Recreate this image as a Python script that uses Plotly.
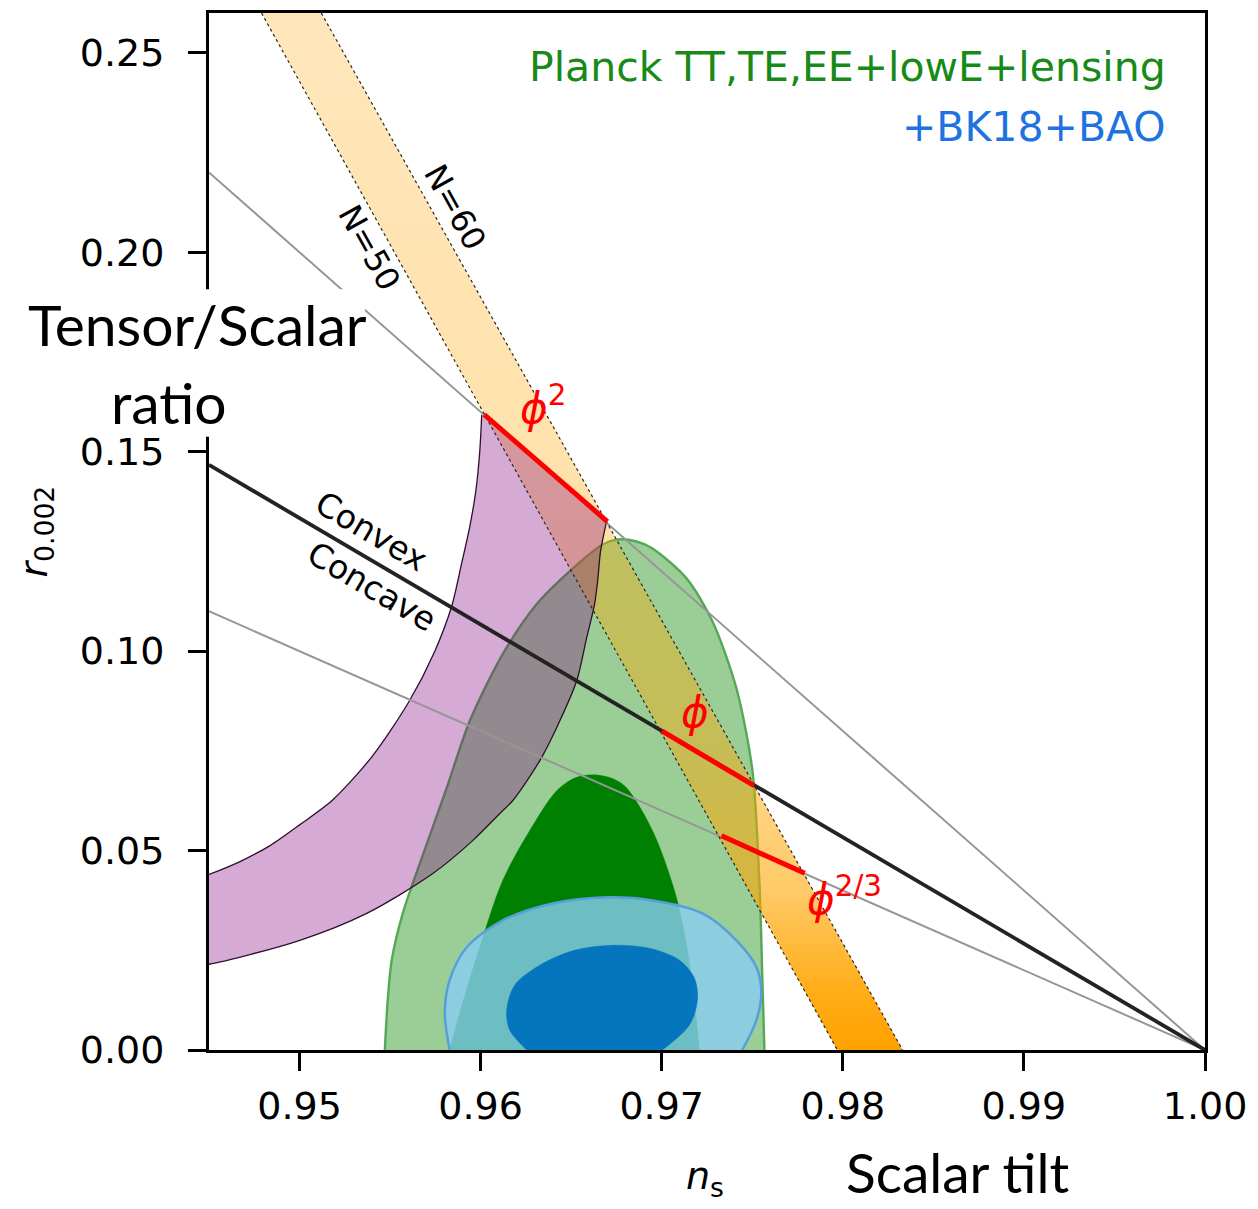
import plotly.graph_objects as go

# ---------------- data ----------------
# straight model lines through (1, 0)
line_ns = [0.945, 1.0]
r_upper = [0.22, 0.0]      # thin grey
r_mid = [0.1467, 0.0]      # convex / concave boundary (black)
r_lower = [0.11, 0.0]      # thin grey

# N = 50 and N = 60 band edges
n50_ns = [0.9479, 0.9797]
n50_r = [0.26, 0.0]
n60_ns = [0.9512, 0.9833]
n60_r = [0.26, 0.0]

# red model segments
phi2_ns = [0.9602, 0.9670]
phi2_r = [0.1593, 0.1325]
phi1_ns = [0.9700, 0.9751]
phi1_r = [0.0800, 0.0663]
phi23_ns = [0.9733, 0.9779]
phi23_r = [0.0537, 0.0443]

# purple region (left and right edges, top to bottom)
purple_left_ns = [0.96006, 0.95995, 0.95973, 0.95940, 0.95895, 0.95840, 0.95747,
                  0.95603, 0.95399, 0.95184, 0.95002, 0.94837, 0.94671, 0.94500, 0.94395]
purple_left_r = [0.15925, 0.1500, 0.1400, 0.13125, 0.1220, 0.11125, 0.1000,
                 0.08725, 0.0735, 0.06275, 0.0565, 0.05125, 0.04725, 0.0440, 0.04225]
purple_right_ns = [0.96695, 0.96662, 0.96646, 0.96629, 0.96585, 0.96530, 0.96419,
                   0.96326, 0.96177, 0.96105, 0.95956, 0.95736, 0.95371, 0.95002,
                   0.94500, 0.94400]
purple_right_r = [0.1325, 0.1250, 0.1175, 0.11175, 0.10325, 0.0925, 0.08075,
                  0.0725, 0.0625, 0.05925, 0.0525, 0.04425, 0.03425, 0.0275,
                  0.0215, 0.0212]

# Planck 95% contour
g95_ns = [0.95471, 0.95487, 0.95509, 0.95570, 0.95664, 0.95813, 0.95940, 0.96122,
          0.96309, 0.96491, 0.96673, 0.96756, 0.96861, 0.96949, 0.97137, 0.97280,
          0.97412, 0.97501, 0.97539, 0.97556, 0.97567]
g95_r = [0.0, 0.0125, 0.0225, 0.03425, 0.04675, 0.06575, 0.0825, 0.09925,
         0.11175, 0.1200, 0.12675, 0.1280, 0.1275, 0.12575, 0.11825, 0.1075,
         0.09075, 0.0700, 0.0425, 0.0175, 0.0]

# Planck 68% contour
g68_ns = [0.95829, 0.95884, 0.95995, 0.96122, 0.96271, 0.96420, 0.96520, 0.96620,
          0.96720, 0.96800, 0.96949, 0.97081, 0.97153, 0.97208]
g68_r = [0.0, 0.00925, 0.02575, 0.0425, 0.0550, 0.0650, 0.0682, 0.0690,
         0.0682, 0.0660, 0.0550, 0.03825, 0.02175, 0.0]

# +BK18+BAO 95% contour
b95_ns = [0.95829, 0.95802, 0.95829, 0.95923, 0.96122, 0.96397, 0.96673, 0.96949,
          0.97225, 0.97412, 0.97523, 0.97550, 0.97523, 0.97445]
b95_r = [0.0, 0.00925, 0.0175, 0.02575, 0.0325, 0.03675, 0.03825, 0.0375,
         0.03425, 0.0275, 0.02075, 0.01425, 0.0075, 0.0]

# +BK18+BAO 68% contour
b68_ns = [0.96254, 0.96160, 0.96144, 0.96188, 0.96326, 0.96519, 0.96728, 0.96932,
          0.97098, 0.97181, 0.97197, 0.97153, 0.97004]
b68_r = [0.0, 0.005, 0.010, 0.01625, 0.02125, 0.025, 0.02625, 0.0255,
         0.0225, 0.018, 0.0125, 0.00625, 0.0]

x_ticks = [0.95, 0.96, 0.97, 0.98, 0.99, 1.00]
x_ticktext = ["0.95", "0.96", "0.97", "0.98", "0.99", "1.00"]
y_ticks = [0.00, 0.05, 0.10, 0.15, 0.20, 0.25]
y_ticktext = ["0.00", "0.05", "0.10", "0.15", "0.20", "0.25"]

# ---------------- figure ----------------
W, H = 1258, 1209
L, R, T, B = 209, 53, 10, 159
PW, PH = W - L - R, H - T - B


def px(xp):
    return (xp - L) / PW


def py(yp):
    return (H - B - yp) / PH


fig = go.Figure()

# Planck contours
fig.add_trace(go.Scatter(x=g95_ns, y=g95_r, mode="lines", fill="toself",
                         fillcolor="rgb(155,206,150)",
                         line=dict(color="rgb(85,168,85)", width=2.4, shape="spline", smoothing=0.8),
                         hoverinfo="skip"))
fig.add_trace(go.Scatter(x=g68_ns, y=g68_r, mode="lines", fill="toself",
                         fillcolor="rgb(0,128,0)",
                         line=dict(color="rgb(0,128,0)", width=0.5, shape="spline", smoothing=0.9),
                         hoverinfo="skip"))

# N band with gradient
band_ns = n50_ns + n60_ns[::-1]
band_r = n50_r + n60_r[::-1]
fig.add_trace(go.Scatter(
    x=band_ns, y=band_r, mode="lines", fill="toself",
    line=dict(width=0, color="rgba(0,0,0,0)"),
    fillgradient=dict(type="vertical", colorscale=[
        [0.0, "rgba(255,160,0,1)"],
        [0.06, "rgba(255,165,0,0.9)"],
        [0.15, "rgba(255,165,0,0.6)"],
        [0.3, "rgba(255,165,0,0.42)"],
        [0.55, "rgba(255,165,0,0.33)"],
        [1.0, "rgba(255,165,0,0.27)"]]),
    hoverinfo="skip"))

# purple region: two smooth edges, filled between them
fig.add_trace(go.Scatter(x=purple_left_ns, y=purple_left_r, mode="lines",
                         line=dict(color="rgb(45,15,45)", width=1.3, shape="spline", smoothing=0.8),
                         hoverinfo="skip"))
fig.add_trace(go.Scatter(x=purple_right_ns, y=purple_right_r, mode="lines", fill="tonextx",
                         fillcolor="rgba(128,0,128,0.33)",
                         line=dict(color="rgb(45,15,45)", width=1.3, shape="spline", smoothing=0.8),
                         hoverinfo="skip"))

# BK18 contours
fig.add_trace(go.Scatter(x=b95_ns, y=b95_r, mode="lines", fill="toself",
                         fillcolor="rgba(136,205,243,0.8)",
                         line=dict(color="rgb(85,160,218)", width=2.5, shape="spline", smoothing=0.9),
                         hoverinfo="skip"))
fig.add_trace(go.Scatter(x=b68_ns, y=b68_r, mode="lines", fill="toself",
                         fillcolor="rgba(0,114,189,0.95)",
                         line=dict(color="rgba(0,114,189,0.95)", width=0.5, shape="spline", smoothing=0.9),
                         hoverinfo="skip"))

# lines
fig.add_trace(go.Scatter(x=line_ns, y=r_upper, mode="lines",
                         line=dict(color="rgb(150,150,150)", width=2), hoverinfo="skip"))
fig.add_trace(go.Scatter(x=line_ns, y=r_lower, mode="lines",
                         line=dict(color="rgb(150,150,150)", width=2), hoverinfo="skip"))
fig.add_trace(go.Scatter(x=line_ns, y=r_mid, mode="lines",
                         line=dict(color="rgb(35,35,35)", width=3.8), hoverinfo="skip"))
fig.add_trace(go.Scatter(x=n50_ns, y=n50_r, mode="lines",
                         line=dict(color="rgb(40,40,40)", width=1.2, dash="dot"), hoverinfo="skip"))
fig.add_trace(go.Scatter(x=n60_ns, y=n60_r, mode="lines",
                         line=dict(color="rgb(40,40,40)", width=1.2, dash="dot"), hoverinfo="skip"))
for xs, ys in [(phi2_ns, phi2_r), (phi1_ns, phi1_r), (phi23_ns, phi23_r)]:
    fig.add_trace(go.Scatter(x=xs, y=ys, mode="lines",
                             line=dict(color="rgb(255,0,0)", width=5), hoverinfo="skip"))

font_main = "DejaVu Sans"


def A(**kw):
    d = dict(showarrow=False, xanchor="center", yanchor="middle")
    d.update(kw)
    return d


ann = []
# legend-like labels
ann.append(A(x=px(1168), y=py(64), xref="paper", yref="paper", xanchor="right",
             text="Planck TT,TE,EE+lowE+lensing",
             font=dict(family=font_main, size=41, color="#178a17")))
ann.append(A(x=px(1168), y=py(124), xref="paper", yref="paper", xanchor="right",
             text="+BK18+BAO",
             font=dict(family=font_main, size=41, color="#1e73e0")))
# N labels
ann.append(A(x=0.95388, y=0.2012, xref="x", yref="y", text="N=50", textangle=61,
             font=dict(family=font_main, size=32, color="black")))
ann.append(A(x=0.95857, y=0.21125, xref="x", yref="y", text="N=60", textangle=61,
             font=dict(family=font_main, size=32, color="black")))
# convex / concave
ann.append(A(x=0.95400, y=0.13, xref="x", yref="y", text="Convex", textangle=30.5,
             font=dict(family=font_main, size=33, color="black")))
ann.append(A(x=0.95400, y=0.1163, xref="x", yref="y", text="Concave", textangle=30.5,
             font=dict(family=font_main, size=33, color="black")))
# phi labels
ann.append(A(x=0.96342, y=0.1615, xref="x", yref="y", text="<i>ϕ</i><sup>2</sup>",
             font=dict(family=font_main, size=42, color="red")))
ann.append(A(x=0.97181, y=0.0845, xref="x", yref="y", text="<i>ϕ</i>",
             font=dict(family=font_main, size=42, color="red")))
ann.append(A(x=0.98010, y=0.0385, xref="x", yref="y", text="<i>ϕ</i><sup>2/3</sup>",
             font=dict(family=font_main, size=42, color="red")))
# axis labels
ann.append(A(x=px(36), y=py(530), xref="paper", yref="paper", text="<i>r</i><sub>0.002</sub>",
             textangle=-90, font=dict(family=font_main, size=38, color="black")))
ann.append(A(x=px(705), y=py(1179), xref="paper", yref="paper", text="<i>n</i><sub>s</sub>",
             font=dict(family=font_main, size=38, color="black")))
ann.append(A(x=px(957), y=py(1172), xref="paper", yref="paper", text="Scalar tilt",
             font=dict(family="Lato", size=55, color="black")))
ann.append(A(x=px(197), y=py(322), xref="paper", yref="paper", text="Tensor/Scalar",
             font=dict(family="Lato", size=57, color="black")))
ann.append(A(x=px(169), y=py(400), xref="paper", yref="paper", text="ratio",
             font=dict(family="Lato", size=57, color="black")))

shapes = [dict(type="rect", xref="paper", yref="paper", x0=px(15), x1=px(365), y0=py(435), y1=py(287),
               fillcolor="white", line=dict(width=0), layer="above")]

fig.update_layout(
    width=W, height=H,
    margin=dict(l=L, r=R, t=T, b=B, pad=0),
    paper_bgcolor="white", plot_bgcolor="white",
    showlegend=False,
    annotations=ann,
    shapes=shapes,
    xaxis=dict(range=[0.945, 1.0], tickvals=x_ticks, ticktext=x_ticktext,
               ticks="outside", ticklen=18, tickwidth=3, tickcolor="black",
               showline=True, linecolor="black", linewidth=3, mirror=True,
               showgrid=False, zeroline=False, ticklabelstandoff=2,
               tickfont=dict(family=font_main, size=38, color="black")),
    yaxis=dict(range=[0.0, 0.26], tickvals=y_ticks, ticktext=y_ticktext,
               ticks="outside", ticklen=18, tickwidth=3, tickcolor="black",
               showline=True, linecolor="black", linewidth=3, mirror=True,
               showgrid=False, zeroline=False, ticklabelstandoff=16,
               tickfont=dict(family=font_main, size=38, color="black")),
)

fig.write_html("out.html")
